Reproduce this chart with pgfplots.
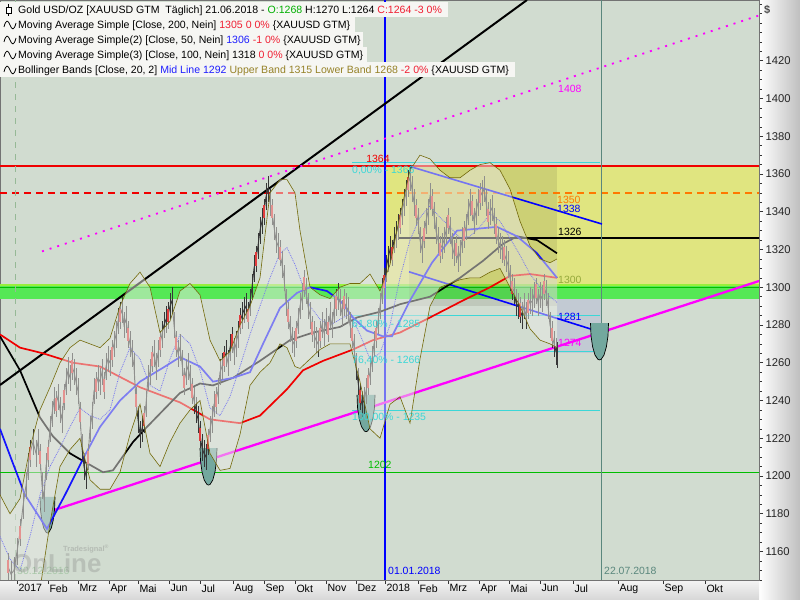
\documentclass[border=0pt]{standalone}
\usepackage{pgfplots}
\pgfplotsset{compat=1.18}
\usepackage{pgfplotstable}
\usepackage{fontspec}
\setmainfont{Liberation Sans}

\definecolor{bgc}{RGB}{209,220,208}
\definecolor{ylw}{RGB}{224,229,128}
\definecolor{grn}{RGB}{85,232,85}
\definecolor{grnlt}{RGB}{150,240,60}
\definecolor{grnline}{RGB}{0,190,0}
\definecolor{cyn}{RGB}{60,215,215}
\definecolor{mag}{RGB}{255,0,255}
\definecolor{olv}{RGB}{115,105,10}
\definecolor{tealf}{RGB}{115,168,158}
\definecolor{ma50}{RGB}{20,20,255}
\definecolor{ma200}{RGB}{240,0,0}
\definecolor{orng}{RGB}{255,120,0}
\definecolor{boxc}{RGB}{246,246,243}
\definecolor{lgrn}{RGB}{0,175,0}
\definecolor{lred}{RGB}{240,30,50}
\definecolor{lblue}{RGB}{30,30,255}
\definecolor{lolv}{RGB}{150,130,40}
\definecolor{vgray}{RGB}{90,135,125}
\definecolor{bandf}{RGB}{232,232,228}
\definecolor{lav}{RGB}{180,185,215}
\definecolor{candle}{RGB}{55,55,55}
\definecolor{candlered}{RGB}{225,60,60}
\definecolor{lbl300}{RGB}{150,170,60}
\definecolor{dashv}{RGB}{150,185,150}
\definecolor{lbl16}{RGB}{170,200,170}

% daily closes (x = chart position)
\pgfplotstableread{
x c
8 1152
11 1148
14 1150
17 1160
20 1170
23 1184
26 1195
28 1205
30 1212
33 1218
36 1212
38 1218
40 1210
42 1195
44 1188
46 1205
48 1212
50 1225
52 1233
54 1240
56 1238
58 1242
60 1235
62 1230
64 1242
66 1250
68 1256
70 1252
72 1258
74 1255
76 1250
78 1245
80 1232
82 1215
84 1205
86 1200
88 1210
90 1225
92 1232
94 1245
96 1248
98 1252
100 1250
102 1255
104 1248
106 1258
108 1262
110 1260
112 1265
114 1270
116 1275
118 1282
120 1285
122 1288
124 1280
126 1283
128 1275
130 1270
132 1265
134 1258
136 1240
138 1230
140 1222
142 1225
144 1230
146 1238
148 1252
150 1255
152 1262
154 1265
156 1258
158 1265
160 1270
162 1275
164 1280
166 1283
168 1285
170 1290
172 1293
174 1280
176 1270
178 1265
180 1268
182 1260
184 1250
186 1255
188 1258
190 1252
192 1245
194 1240
196 1235
198 1230
200 1222
202 1215
204 1212
206 1210
208 1218
210 1225
212 1230
214 1238
216 1240
218 1245
220 1255
222 1258
224 1262
226 1265
228 1260
230 1268
232 1272
234 1266
236 1270
238 1275
240 1282
242 1285
244 1288
246 1290
248 1285
250 1292
252 1300
254 1310
256 1315
258 1322
260 1330
262 1335
264 1340
266 1348
268 1352
270 1345
272 1340
274 1332
276 1325
278 1322
280 1318
282 1312
284 1305
286 1292
288 1285
290 1278
292 1272
294 1270
296 1275
298 1282
300 1290
302 1295
304 1302
306 1298
308 1290
310 1285
312 1278
314 1275
316 1272
318 1270
320 1275
322 1280
324 1276
326 1282
328 1278
330 1285
332 1280
334 1288
336 1292
338 1295
340 1292
342 1286
344 1292
346 1290
348 1288
350 1280
352 1275
354 1268
356 1258
358 1250
360 1242
362 1238
364 1240
366 1245
368 1250
370 1255
372 1262
374 1270
376 1275
378 1282
380 1290
382 1298
384 1303
386 1310
388 1315
390 1320
392 1318
394 1325
396 1328
398 1332
400 1335
402 1340
404 1345
406 1350
408 1355
410 1358
412 1352
414 1345
416 1340
418 1335
420 1325
422 1320
424 1328
426 1335
428 1340
430 1348
432 1345
434 1338
436 1330
438 1325
440 1320
442 1322
444 1325
446 1330
448 1335
450 1330
452 1322
454 1318
456 1320
458 1315
460 1318
462 1325
464 1328
466 1332
468 1340
470 1345
472 1342
474 1335
476 1340
478 1345
480 1348
482 1350
484 1352
486 1345
488 1338
490 1340
492 1342
494 1335
496 1330
498 1325
500 1322
502 1320
504 1318
506 1315
508 1312
510 1305
512 1300
514 1298
516 1292
518 1290
520 1288
522 1285
524 1290
526 1285
528 1290
530 1293
532 1292
534 1296
536 1298
538 1292
540 1296
542 1294
544 1300
546 1297
548 1290
550 1280
552 1275
554 1270
556 1266
557 1264
}\price

\pgfplotstableread{
x y
0 1275
20 1268
43 1265
73 1260
100 1258
140 1247
180 1239
210 1230
240 1228
260 1232
287 1246
303 1256
323 1261
353 1267
373 1272
400 1276
430 1284
463 1293
490 1300
510 1306
530 1307
557 1305
}\maa

\pgfplotstableread{
x y
0 1274
20 1256
40 1231
53 1221
70 1212
83 1208
103 1202
113 1203
133 1218
147 1226
180 1244
200 1249
213 1248
233 1252
260 1261
290 1272
313 1276
340 1279
357 1284
380 1287
400 1291
430 1295
460 1305
483 1314
503 1323
517 1327
537 1325
557 1318
}\mab

\pgfplotstableread{
x y
0 1225
12 1208
25 1190
47 1172
65 1190
83 1209
100 1226
120 1240
140 1250
165 1258
180 1263
200 1258
213 1250
233 1252
250 1255
263 1270
280 1289
297 1297
310 1300
327 1298
340 1293
353 1284
367 1277
383 1274
392 1274
410 1293
432 1313
457 1330
477 1331
497 1332
517 1327
537 1318
557 1305
}\mac

% Bollinger bands: mid, upper, lower
\pgfplotstableread{
x m u l
0 1168 1190 1128
10 1156 1180 1128
20 1150 1188 1122
30 1168 1215 1125
40 1190 1235 1140
50 1205 1247 1175
60 1215 1260 1205
70 1226 1268 1214
80 1236 1272 1220
90 1232 1270 1198
100 1230 1268 1193
110 1235 1273 1193
120 1255 1290 1202
130 1268 1302 1222
140 1262 1308 1238
150 1248 1300 1212
160 1245 1276 1205
170 1262 1282 1218
180 1275 1298 1228
190 1270 1302 1235
200 1256 1296 1240
210 1236 1272 1212
220 1232 1261 1203
230 1242 1266 1204
240 1258 1280 1222
250 1275 1290 1248
260 1290 1305 1255
270 1305 1350 1260
280 1318 1357 1270
287 1321 1357 1268
295 1312 1350 1258
300 1305 1330 1257
310 1290 1300 1262
320 1283 1296 1267
330 1280 1294 1270
340 1283 1300 1270
350 1286 1302 1270
360 1275 1302 1250
370 1262 1307 1225
380 1265 1298 1220
390 1280 1312 1238
400 1305 1338 1242
410 1325 1362 1228
420 1337 1370 1262
430 1343 1368 1290
440 1337 1362 1300
450 1332 1358 1302
460 1326 1358 1304
470 1327 1362 1305
480 1332 1365 1305
490 1339 1366 1308
500 1335 1362 1310
510 1326 1352 1300
520 1317 1335 1290
530 1307 1322 1278
540 1300 1315 1272
550 1295 1313 1270
557 1292 1315 1268
}\bb

% band outline: upper band left to right, lower band right to left
\pgfplotstableread{
x y
0 1190
10 1180
20 1188
30 1215
40 1235
50 1247
60 1260
70 1268
80 1272
90 1270
100 1268
110 1273
120 1290
130 1302
140 1308
150 1300
160 1276
170 1282
180 1298
190 1302
200 1296
210 1272
220 1261
230 1266
240 1280
250 1290
260 1305
270 1350
280 1357
287 1357
295 1350
300 1330
310 1300
320 1296
330 1294
340 1300
350 1302
360 1302
370 1307
380 1298
390 1312
400 1338
410 1362
420 1370
430 1368
440 1362
450 1358
460 1358
470 1362
480 1365
490 1366
500 1362
510 1352
520 1335
530 1322
540 1315
550 1313
557 1315
557 1268
550 1270
540 1272
530 1278
520 1290
510 1300
500 1310
490 1308
480 1305
470 1305
460 1304
450 1302
440 1300
430 1290
420 1262
410 1228
400 1242
390 1238
380 1220
370 1225
360 1250
350 1270
340 1270
330 1270
320 1267
310 1262
300 1257
295 1258
287 1268
280 1270
270 1260
260 1255
250 1248
240 1222
230 1204
220 1203
210 1212
200 1240
190 1235
180 1228
170 1218
160 1205
150 1212
140 1238
130 1222
120 1202
110 1193
100 1193
90 1198
80 1220
70 1214
60 1205
50 1175
40 1140
30 1125
20 1122
10 1128
0 1128
}\bandpoly

\begin{document}
\begin{tikzpicture}
\useasboundingbox (0,0) rectangle (800bp,600bp);
\shade[left color=white, right color=black!25] (759bp,0) rectangle (800bp,600bp);
\shade[top color=black!4, bottom color=black!16] (0,0) rectangle (759bp,20bp);

\begin{axis}[
  at={(0,20bp)}, anchor=south west,
  width=759bp, height=580bp, scale only axis,
  xmin=0, xmax=759, ymin=1144.9, ymax=1452.2,
  axis background/.style={fill=bgc},
  axis line style={draw=black!55},
  ytick={1160,1180,...,1420},
  minor ytick={1145,1150,...,1450},
  ytick pos=right, yticklabel pos=right,
  xtick={17,48,78,109,138,169,200,233,264,295,326,356,385,418,448,479,509,540,573,618,663,705},
  xticklabels={2017,Feb,Mrz,Apr,Mai,Jun,Jul,Aug,Sep,Okt,Nov,Dez,2018,Feb,Mrz,Apr,Mai,Jun,Jul,Aug,Sep,Okt},
  xtick pos=bottom,
  tick align=outside,
  major tick length=4bp, minor tick length=2.5bp,
  tick style={black!80, line width=0.6pt},
  yticklabel style={font=\fontsize{11.3}{12}\selectfont, anchor=west, xshift=-1bp, text=black!85},
  xticklabel style={font=\fontsize{10.6}{12}\selectfont, anchor=north west, xshift=-2bp, yshift=3bp},
  /pgf/number format/assume math mode=true,
  /pgf/number format/set thousands separator={},
]
% zones
\addplot[draw=none, fill=ylw] coordinates {(385,1301.5) (759,1301.5) (759,1364) (385,1364)} -- cycle;
\addplot[draw=none, fill=grn] coordinates {(0,1293.8) (759,1293.8) (759,1301.6) (0,1301.6)} -- cycle;
\addplot[grnlt, line width=1.2pt] coordinates {(0,1301.2) (759,1301.2)};
\addplot[grnline, line width=1.3pt] coordinates {(0,1300) (759,1300)};
\addplot[draw=none, fill=black!60!olive, fill opacity=0.13] coordinates {(409,1290) (557,1290) (557,1364) (409,1364)} -- cycle;
\addplot[draw=none, fill=lav, fill opacity=0.5] coordinates {(557,1265) (602,1265) (602,1293.8) (557,1293.8)} -- cycle;

% horizontal levels
\addplot[ma200, line width=2pt] coordinates {(0,1364) (759,1364)};
\addplot[ma200, line width=1.6pt, dash pattern=on 7bp off 5bp] coordinates {(0,1350) (385,1350)};
\addplot[orng, line width=1.6pt, dash pattern=on 7bp off 5bp] coordinates {(385,1350) (759,1350)};
\addplot[black, line width=1.6pt] coordinates {(398,1326) (759,1326)};
\addplot[grnline, line width=1.4pt] coordinates {(0,1202) (759,1202)};
\addplot[cyn, line width=0.8pt] coordinates {(352,1366) (600,1366)};
\addplot[cyn, line width=0.8pt] coordinates {(352,1285) (600,1285)};
\addplot[cyn, line width=0.8pt] coordinates {(352,1266) (600,1266)};
\addplot[cyn, line width=0.8pt] coordinates {(352,1235) (600,1235)};

% vertical markers
\addplot[dashv, line width=0.8pt, dash pattern=on 6bp off 6bp] coordinates {(15,1144.9) (15,1452.2)};
\addplot[blue, line width=1.6pt] coordinates {(385,1144.9) (385,1452.2)};
\addplot[vgray, line width=0.8pt] coordinates {(601.5,1144.9) (601.5,1452.2)};

% trend lines
\addplot[black, line width=2pt] coordinates {(0,1248.2) (527,1452.2)};
\addplot[mag, line width=1.8pt, dash pattern=on 2bp off 6bp] coordinates {(42,1319) (759,1444)};
\addplot[mag, line width=2.3pt] coordinates {(45,1180.4) (759,1303.3)};
\addplot[blue, line width=1.6pt] coordinates {(410,1364) (602,1333.5)};
\addplot[blue, line width=1.6pt] coordinates {(409,1308.2) (602,1276)};

% cup markers
\addplot[draw=black, fill=tealf, line width=0.7pt] coordinates {(40,1188.9) (40.45,1182.4) (41.75,1176.6) (43.75,1172.4) (46.2,1170.1) (47.5,1169.8) (48.8,1170.1) (51.25,1172.4) (53.25,1176.6) (54.55,1182.4) (55,1188.9)};
\addplot[draw=black, fill=tealf, line width=0.7pt] coordinates {(200,1214.8) (200.5,1208.1) (202,1202.2) (204.25,1197.8) (207,1195.5) (208.5,1195.2) (210,1195.5) (212.75,1197.8) (215,1202.2) (216.5,1208.1) (217,1214.8)};
\addplot[draw=black, fill=tealf, line width=0.7pt] coordinates {(357,1243) (357.5,1236.3) (359.1,1230.5) (361.5,1226.1) (364.4,1223.8) (366,1223.5) (367.6,1223.8) (370.5,1226.1) (372.9,1230.5) (374.5,1236.3) (375,1243)};
\addplot[draw=black, fill=tealf, line width=0.7pt] coordinates {(590.5,1281) (591,1274.3) (592.6,1268.5) (595,1264.1) (597.9,1261.8) (599.5,1261.5) (601.1,1261.8) (604,1264.1) (606.4,1268.5) (608,1274.3) (608.5,1281)};

% moving averages
\addplot[ma200, line width=1.7pt] table[x=x,y=y] {\maa};
\addplot[black, line width=1.7pt] table[x=x,y=y] {\mab};
\addplot[ma50, line width=1.7pt] table[x=x,y=y] {\mac};
\addplot[blue, densely dotted, line width=0.8pt] table[x=x,y=m] {\bb};

% price
\addplot[candle, line width=0.9pt, error bars/.cd, y dir=both, y fixed=7, error mark=none,
  error bar style={candle, line width=0.8pt}] table[x=x,y=c] {\price};
\addplot[draw=none, each nth point=4, error bars/.cd, y dir=both, y fixed=3.5, error mark=none,
  error bar style={draw=candlered, line width=1.4pt}] table[x=x,y=c] {\price};

% Bollinger band fill and lines
\addplot[draw=none, fill=bandf, fill opacity=0.5] table[x=x,y=y] {\bandpoly} -- cycle;
\addplot[olv, line width=0.6pt] table[x=x,y=u] {\bb};
\addplot[olv, line width=0.6pt] table[x=x,y=l] {\bb};
\end{axis}

\begin{scope}[x=1bp, y=-1bp, yshift=600bp, every node/.style={font=\fontsize{10.5}{12}\selectfont, inner sep=0pt}]
% info block
\fill[boxc] (0,2.5) rectangle (448,17.5);
\fill[boxc] (0,17.5) rectangle (355,32.5);
\fill[boxc] (0,32.5) rectangle (363,47.5);
\fill[boxc] (0,47.5) rectangle (367,62.5);
\fill[boxc] (0,62.5) rectangle (515,77.5);
\draw[black, line width=0.8pt] (8.5,4) -- (8.5,16.5);
\draw[black, fill=white, line width=0.8pt] (6,7.5) rectangle (11,13);
\foreach \yc in {25,40,55,70}{
  \draw[black, line width=0.8pt] (4,\yc+2) .. controls (6,\yc-6) and (8,\yc-5) .. (10,\yc) .. controls (12,\yc+5) and (14,\yc+6) .. (16,\yc-2);
}
\node[anchor=base west, font=\fontsize{10.6}{12}\selectfont] at (18,14) {Gold USD/OZ [XAUUSD GTM\ \ Täglich] 21.06.2018 - \textcolor{lgrn}{O:1268} H:1270 L:1264 \textcolor{lred}{C:1264 -3 0\%}};
\node[anchor=base west, font=\fontsize{10.6}{12}\selectfont] at (18,29) {Moving Average Simple [Close, 200, Nein] \textcolor{lred}{1305 0 0\%} \{XAUUSD GTM\}};
\node[anchor=base west, font=\fontsize{10.6}{12}\selectfont] at (18,44) {Moving Average Simple(2) [Close, 50, Nein] \textcolor{lblue}{1306} \textcolor{lred}{-1 0\%} \{XAUUSD GTM\}};
\node[anchor=base west, font=\fontsize{10.6}{12}\selectfont] at (18,59) {Moving Average Simple(3) [Close, 100, Nein] 1318 \textcolor{lred}{0 0\%} \{XAUUSD GTM\}};
\node[anchor=base west, font=\fontsize{10.6}{12}\selectfont] at (18,74) {Bollinger Bands [Close, 20, 2] \textcolor{lblue}{Mid Line 1292} \textcolor{lolv}{Upper Band 1315 Lower Band 1268} \textcolor{lred}{-2 0\%} \{XAUUSD GTM\}};

% level labels
\node[text=ma200] at (378,159) {1364};
\node[anchor=west, text=cyn] at (352,171) {0,00\% - 1366};
\node[anchor=west, text=cyn] at (352,325) {61,80\% - 1285};
\node[anchor=west, text=cyn] at (352,361) {76,40\% - 1266};
\node[anchor=west, text=cyn] at (352,418) {100,00\% - 1235};
\node[anchor=west, text=mag] at (558,89) {1408};
\node[anchor=west, text=orng] at (557,200) {1350};
\node[anchor=west, text=blue] at (557,209) {1338};
\node[anchor=west, text=black] at (558,232) {1326};
\node[anchor=west, text=lbl300] at (558,280) {1300};
\node[anchor=west, text=blue] at (558,317) {1281};
\node[anchor=west, text=mag] at (558,343) {1274};
\node[anchor=west, text=grnline] at (368,465) {1202};
\node[anchor=west, text=blue] at (388,571) {01.01.2018};
\node[anchor=west, text=vgray] at (604,571) {22.07.2018};
\node[anchor=west, text=lbl16] at (17,571) {30.12.2016};
\node[anchor=west, text=black!70, font=\fontsize{11}{12}\selectfont\bfseries] at (764,10) {\$};
% watermark
\node[anchor=west, text=black!50, text opacity=0.3, font=\fontsize{26}{28}\selectfont\bfseries] at (12,563) {OnLine};
\node[anchor=west, text=black!50, text opacity=0.35, font=\fontsize{7.5}{9}\selectfont\bfseries] at (63,549) {Tradesignal\textsuperscript{\textregistered}};
\end{scope}
\end{tikzpicture}
\end{document}
